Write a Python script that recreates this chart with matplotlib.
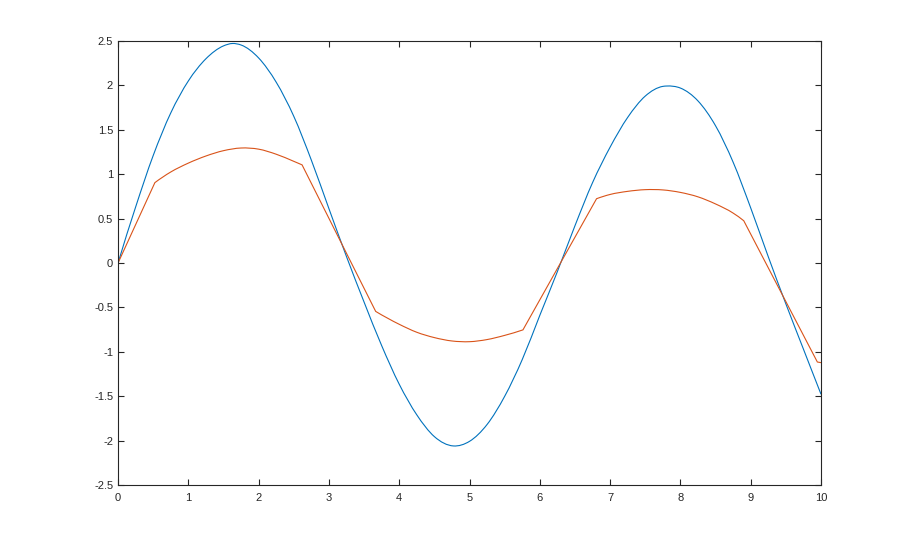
import matplotlib
matplotlib.use("Agg")
import matplotlib.pyplot as plt
from matplotlib.path import Path
from matplotlib.patches import PathPatch

# blue curve (x in steps of 0.25 plus the three turning points)
blue_x = [0.0, 0.25, 0.5, 0.75, 1.0, 1.25, 1.5, 1.626, 1.75, 2.0, 2.25, 2.5, 2.75,
          3.0, 3.25, 3.5, 3.75, 4.0, 4.25, 4.5, 4.77, 5.0, 5.25, 5.5, 5.75,
          6.0, 6.25, 6.5, 6.75, 7.0, 7.25, 7.5, 7.75, 7.805, 8.0, 8.25, 8.5, 8.75,
          9.0, 9.25, 9.5, 9.75, 10.0]
blue_y = [0.0, 0.63, 1.21, 1.69, 2.05, 2.30, 2.445, 2.472, 2.455, 2.309, 2.036, 1.652, 1.158,
          0.612, 0.072, -0.44, -0.93, -1.365, -1.71, -1.955, -2.06, -2.008, -1.818, -1.501, -1.087,
          -0.589, -0.096, 0.42, 0.905, 1.305, 1.64, 1.88, 1.989, 1.993, 1.97, 1.825, 1.545, 1.135,
          0.62, 0.07, -0.46, -0.97, -1.478]

# orange curve (straight pieces between the kinks, bent pieces in between)
orange_x = [0.0, 0.524, 0.75, 1.0, 1.25, 1.5, 1.75, 2.0, 2.25, 2.5, 2.618,
            3.665, 4.0, 4.25, 4.5, 4.75, 5.0, 5.25, 5.5, 5.76,
            6.807, 7.0, 7.25, 7.5, 7.75, 8.0, 8.25, 8.5, 8.75, 8.901,
            9.948, 10.0]
orange_y = [0.0, 0.905, 1.025, 1.125, 1.205, 1.265, 1.295, 1.282, 1.225, 1.145, 1.105,
            -0.545, -0.69, -0.78, -0.84, -0.878, -0.886, -0.862, -0.815, -0.753,
            0.724, 0.772, 0.807, 0.826, 0.823, 0.795, 0.745, 0.665, 0.562, 0.476,
            -1.115, -1.122]

xticks = [0, 1, 2, 3, 4, 5, 6, 7, 8, 9, 10]
yticks = [-2.5, -2, -1.5, -1, -0.5, 0, 0.5, 1, 1.5, 2, 2.5]
ytick_labels = ["-2.5", "-2", "-1.5", "-1", "-0.5", "0", "0.5", "1", "1.5", "2", "2.5"]

BLUE = '#0072BD'
ORANGE = '#D95319'
AXCOL = '#262626'
STRAIGHT = 0.4   # gaps wider than this are drawn as straight pieces


def slopes(xs, ys):
    # three-point slopes so the bezier pieces pass smoothly through the read points
    n = len(xs)
    if n == 2:
        d = (ys[1] - ys[0]) / (xs[1] - xs[0])
        return [d, d]
    m = []
    for i in range(n):
        if i == 0:
            h1, h2 = xs[1] - xs[0], xs[2] - xs[1]
            d1, d2 = (ys[1] - ys[0]) / h1, (ys[2] - ys[1]) / h2
            m.append(((2*h1 + h2)*d1 - h1*d2) / (h1 + h2))
        elif i == n - 1:
            h1, h2 = xs[-2] - xs[-3], xs[-1] - xs[-2]
            d1, d2 = (ys[-2] - ys[-3]) / h1, (ys[-1] - ys[-2]) / h2
            m.append(((2*h2 + h1)*d2 - h2*d1) / (h1 + h2))
        else:
            h1, h2 = xs[i] - xs[i-1], xs[i+1] - xs[i]
            d1, d2 = (ys[i] - ys[i-1]) / h1, (ys[i+1] - ys[i]) / h2
            m.append((h2*d1 + h1*d2) / (h1 + h2))
    return m


def curve_path(xs, ys):
    verts = [(xs[0], ys[0])]
    codes = [Path.MOVETO]
    i = 0
    n = len(xs)
    while i < n - 1:
        if xs[i+1] - xs[i] > STRAIGHT:
            verts.append((xs[i+1], ys[i+1]))
            codes.append(Path.LINETO)
            i += 1
            continue
        j = i
        while j < n - 1 and xs[j+1] - xs[j] <= STRAIGHT:
            j += 1
        sx, sy = xs[i:j+1], ys[i:j+1]
        m = slopes(sx, sy)
        for k in range(len(sx) - 1):
            h = sx[k+1] - sx[k]
            verts += [(sx[k] + h/3, sy[k] + m[k]*h/3),
                      (sx[k+1] - h/3, sy[k+1] - m[k+1]*h/3),
                      (sx[k+1], sy[k+1])]
            codes += [Path.CURVE4]*3
        i = j
    return Path(verts, codes)


plt.rcParams['font.family'] = ['Liberation Sans', 'DejaVu Sans']

fig = plt.figure(figsize=(9.08, 5.46), dpi=100)
ax = fig.add_axes([0.13, 0.1117, 0.7742, 0.8132])

ax.add_patch(PathPatch(curve_path(blue_x, blue_y), fill=False, ec=BLUE, lw=0.8))
ax.add_patch(PathPatch(curve_path(orange_x, orange_y), fill=False, ec=ORANGE, lw=0.8))

ax.set_xlim(0, 10)
ax.set_ylim(-2.5, 2.5)
ax.set_xticks(xticks)
ax.set_xticklabels([str(t) for t in xticks])
ax.set_yticks(yticks)
ax.set_yticklabels(ytick_labels)

for s in ax.spines.values():
    s.set_color(AXCOL)
    s.set_linewidth(0.8)
ax.tick_params(direction='in', length=4.3, width=0.8, color=AXCOL,
               labelcolor=AXCOL, labelsize=8, top=True, right=True)
ax.tick_params(axis='y', pad=3.5)
ax.tick_params(axis='x', pad=5.5)

fig.savefig("out.png", dpi=100)
